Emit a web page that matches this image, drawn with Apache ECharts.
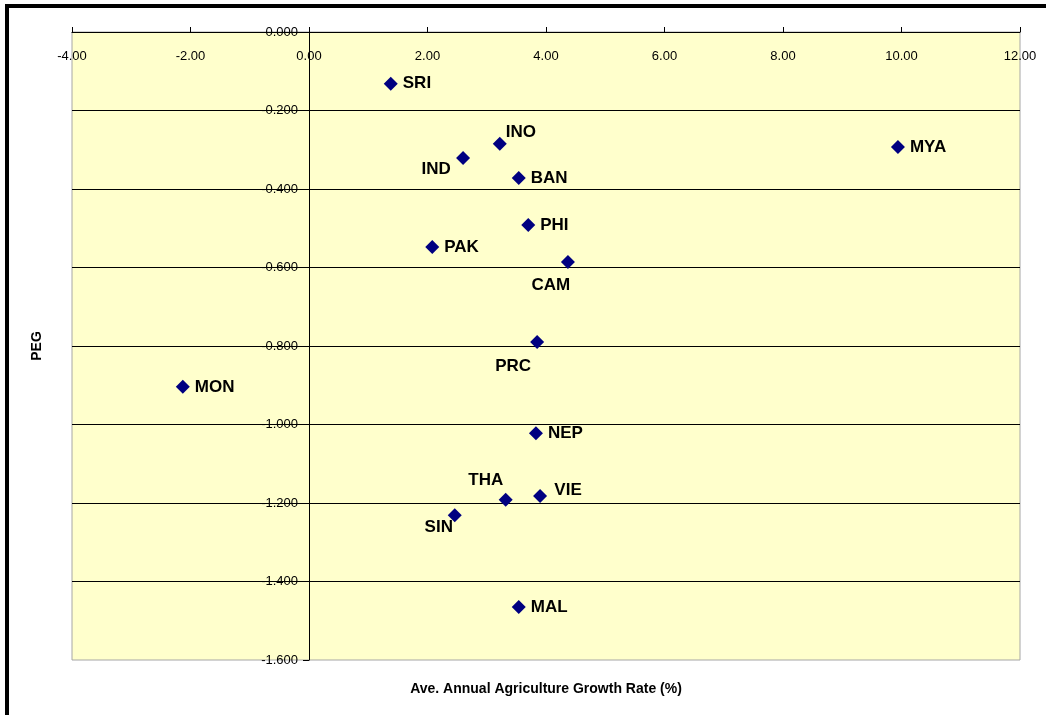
<!DOCTYPE html>
<html>
<head>
<meta charset="utf-8">
<script src="https://cdn.jsdelivr.net/npm/echarts@6/dist/echarts.min.js"></script>
<style>
  html, body { margin: 0; padding: 0; background: #fff; }
  #chart { width: 1046px; height: 715px; }
</style>
</head>
<body>
<div id="chart"></div>
<script>
// country codes with their growth rate (x) and PEG (y)
const countries = ["SRI", "INO", "IND", "BAN", "MYA", "PHI", "PAK", "CAM", "PRC", "MON", "NEP", "VIE", "THA", "SIN", "MAL"]
const growthRate = [1.38, 3.22, 2.60, 3.54, 9.94, 3.70, 2.08, 4.37, 3.85, -2.13, 3.83, 3.90, 3.32, 2.46, 3.54]
const peg = [-0.132, -0.285, -0.321, -0.372, -0.293, -0.492, -0.548, -0.586, -0.790, -0.904, -1.022, -1.182, -1.192, -1.231, -1.465]

const xTicks = [-4, -2, 0, 2, 4, 6, 8, 10, 12]
const yTicks = [0, -0.2, -0.4, -0.6, -0.8, -1.0, -1.2, -1.4, -1.6]

// labels that don't sit to the right of their marker
const labelOffsets = {
	INO: [21, -12],
	IND: [-27, 11],
	CAM: [-17, 23],
	PRC: [-24, 24],
	VIE: [28, -6],
	THA: [-20, -20],
	SIN: [-16, 12],
}

const points = countries.map((name, i) => {
	const item = { name: name, value: [growthRate[i], peg[i]] }
	if (labelOffsets[name]) {
		item.label = { position: "inside", offset: labelOffsets[name] }
	}
	return item
})

const gridLeft = 72
const gridRight = 26
const xMin = xTicks[0]
const xMax = xTicks[xTicks.length - 1]
// y axis crosses at x = 0, shift it in from the left edge
const plotWidth = 1046 - gridLeft - gridRight
const yAxisShift = -plotWidth * (0 - xMin) / (xMax - xMin)

const chart = echarts.init(document.getElementById("chart"))

let options = {
	backgroundColor: "#ffffff",
	animation: false,
	textStyle: { fontFamily: "Liberation Sans, Arial, sans-serif" },
	grid: {
		left: gridLeft,
		right: gridRight,
		top: 32,
		bottom: 55,
		show: true,
		backgroundColor: "#ffffcc",
		borderColor: "#a6a6a6",
		borderWidth: 1,
	},
	xAxis: {
		type: "value",
		position: "top",
		min: xMin,
		max: xMax,
		interval: 2,
		axisLine: { onZero: false, lineStyle: { color: "#000", width: 1 } },
		axisTick: { show: true, inside: false, length: 5, lineStyle: { color: "#000" } },
		axisLabel: {
			inside: true,
			margin: 18,
			color: "#000",
			fontSize: 13,
			formatter: (v) => v.toFixed(2),
		},
		splitLine: { show: false },
	},
	yAxis: {
		type: "value",
		position: "left",
		offset: yAxisShift,
		min: yTicks[yTicks.length - 1],
		max: yTicks[0],
		interval: 0.2,
		axisLine: { onZero: false, lineStyle: { color: "#000", width: 1 } },
		axisTick: { show: true, inside: false, length: 6, lineStyle: { color: "#000" } },
		axisLabel: {
			margin: 11,
			color: "#000",
			fontSize: 13,
			formatter: (v) => v.toFixed(3),
		},
		splitLine: { show: true, showMinLine: false, lineStyle: { color: "#000", width: 1 } },
	},
	series: [
		{
			type: "scatter",
			symbol: "diamond",
			symbolSize: 14,
			itemStyle: { color: "#000080", opacity: 1 },
			label: {
				show: true,
				position: "right",
				distance: 5,
				formatter: "{b}",
				color: "#000",
				fontSize: 17,
				fontWeight: "bold",
			},
			data: points,
		},
	],
	graphic: [
		{
			type: "rect",
			silent: true,
			shape: { x: 7, y: 6, width: 1200, height: 900 },
			style: { fill: "none", stroke: "#000", lineWidth: 4 },
			z: 100,
		},
		{
			type: "text",
			x: 37,
			y: 346,
			rotation: Math.PI / 2,
			style: {
				text: "PEG",
				font: "bold 14px Liberation Sans, Arial, sans-serif",
				fill: "#000",
				textAlign: "center",
				textVerticalAlign: "middle",
			},
		},
		{
			type: "text",
			x: 546,
			y: 689,
			style: {
				text: "Ave. Annual Agriculture Growth Rate (%)",
				font: "bold 14px Liberation Sans, Arial, sans-serif",
				fill: "#000",
				textAlign: "center",
				textVerticalAlign: "middle",
			},
		},
	],
}

chart.setOption(options)
</script>
</body>
</html>
